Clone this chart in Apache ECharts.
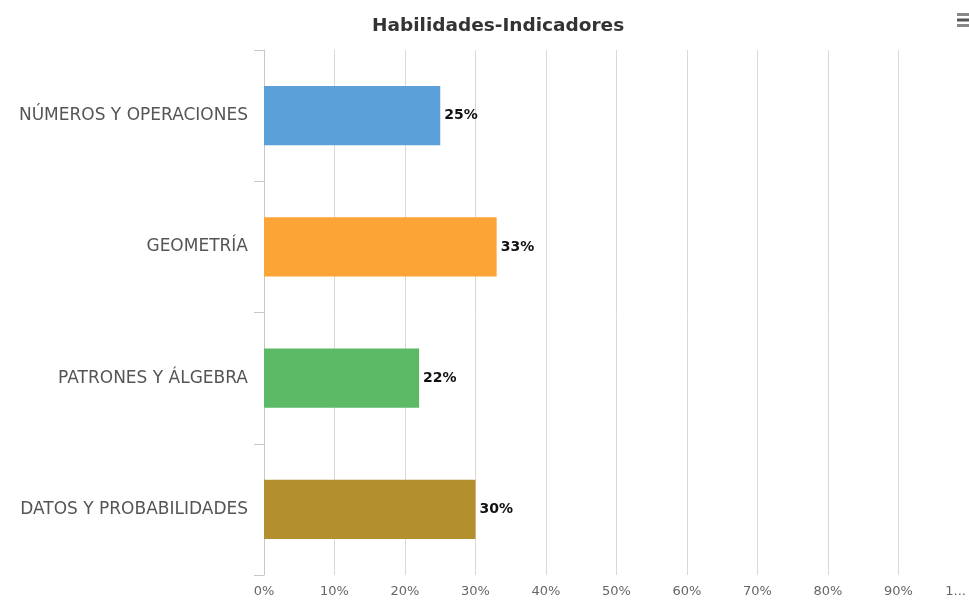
<!DOCTYPE html>
<html>
<head>
<meta charset="utf-8">
<script src="https://cdn.jsdelivr.net/npm/echarts@6/dist/echarts.min.js"></script>
<style>html,body{margin:0;padding:0;background:#fff;}#c{width:969px;height:611px;}</style>
</head>
<body>
<div id="c"></div>
<script>
var title = 'Habilidades-Indicadores';
var categories = ['NÚMEROS Y OPERACIONES', 'GEOMETRÍA', 'PATRONES Y ÁLGEBRA', 'DATOS Y PROBABILIDADES'];
var values = [25, 33, 22, 30];
var colors = ['#5a9fd8', '#fca435', '#5cba66', '#b38f2e'];
var tickLabels = ['0%', '10%', '20%', '30%', '40%', '50%', '60%', '70%', '80%', '90%', '1...'];

var chart = echarts.init(document.getElementById('c'), null, {renderer: 'canvas'});
chart.setOption({
  animation: false,
  backgroundColor: '#fff',
  title: {
    text: title, left: 367, top: 12,
    textStyle: {fontFamily: 'DejaVu Sans', fontSize: 18.5, fontWeight: 'bold', color: '#333'}
  },
  graphic: [
    {type: 'rect', shape: {x: 957, y: 13, width: 13, height: 3}, style: {fill: '#888'}},
    {type: 'rect', shape: {x: 957, y: 18.5, width: 13, height: 3}, style: {fill: '#555'}},
    {type: 'rect', shape: {x: 957, y: 24, width: 13, height: 3}, style: {fill: '#888'}}
  ],
  grid: {left: 264, right: -7, top: 50, bottom: 36, containLabel: false},
  xAxis: {
    type: 'value', min: 0, max: 100, interval: 10,
    axisLine: {show: false}, axisTick: {show: false},
    splitLine: {lineStyle: {color: '#d8d8d8', width: 1}},
    axisLabel: {
      color: '#666', fontSize: 13, fontFamily: 'DejaVu Sans', margin: 10,
      alignMaxLabel: 'right',
      formatter: function (v) {
        var i = Math.round(v / 10);
        return i === 10 ? '{m|' + tickLabels[i] + '}' : tickLabels[i];
      },
      rich: {m: {color: '#666', fontSize: 13, fontFamily: 'DejaVu Sans', padding: [0, 3, 0, 0]}}
    }
  },
  yAxis: {
    type: 'category', data: categories, inverse: true,
    axisLine: {show: true, lineStyle: {color: '#c8c8c8'}},
    axisTick: {show: true, length: 10, lineStyle: {color: '#c8c8c8'}},
    axisLabel: {color: '#555', fontSize: 17, fontFamily: 'DejaVu Sans', margin: 16}
  },
  series: [{
    type: 'bar',
    barWidth: '45%',
    data: values.map(function (v, i) { return {value: v, itemStyle: {color: colors[i]}}; }),
    label: {
      show: true, position: 'right', distance: 4,
      formatter: '{c}%', color: '#111', fontWeight: 'bold', fontSize: 14,
      fontFamily: 'DejaVu Sans'
    }
  }]
});
</script>
</body>
</html>
